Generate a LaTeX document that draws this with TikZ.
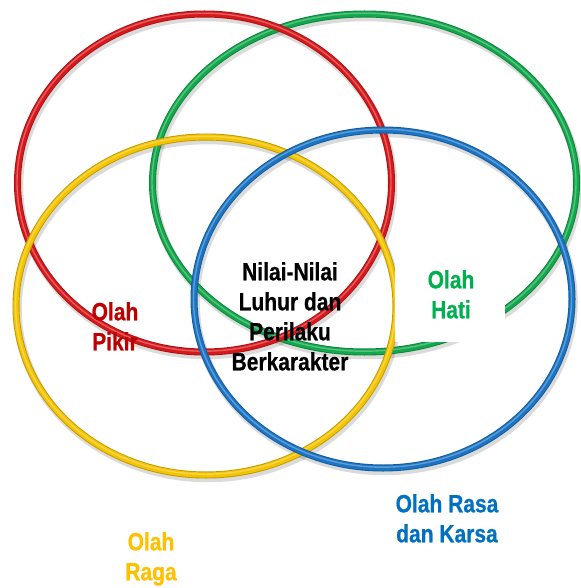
\documentclass[tikz,border=0pt]{standalone}
\usepackage{fontspec}
\newfontfamily\labfont{Liberation Sans}[FakeStretch=0.84,FakeBold=0.6]
\definecolor{ringred}{HTML}{D7191C}
\definecolor{ringgreen}{HTML}{12A84C}
\definecolor{ringyellow}{HTML}{F5C400}
\definecolor{ringblue}{HTML}{1B74C4}
\definecolor{txtred}{HTML}{C00000}
\definecolor{txtgreen}{HTML}{00B050}
\definecolor{txtblue}{HTML}{0070C0}
\definecolor{txtyellow}{HTML}{FFC000}
\tikzset{
  ringshadow/.style={line width=8.5pt, draw=black, opacity=0.14},
  ringbase/.style={line width=7pt, draw=#1!78!black},
  ringmain/.style={line width=5.2pt, draw=#1},
  ringhl/.style={line width=1.4pt, draw=white, opacity=0.3},
  lbl/.style={font=\labfont\bfseries\fontsize{25}{30}\selectfont, align=center, inner sep=0pt, anchor=north}
}
\begin{document}
\begin{tikzpicture}[x=1pt,y=-1pt]
\useasboundingbox (0,0) rectangle (580,588);
\fill[white] (0,0) rectangle (580,588);
% centres
\coordinate (cr) at (204.5,183);
\coordinate (cg) at (364.5,183);
\coordinate (cy) at (206,306);
\coordinate (cb) at (383,299);
% shadows
\foreach \c/\rx in {cg/212,cr/187,cy/190,cb/189}{
  \draw[ringshadow] ([shift={(1.5,3)}]\c) ellipse [x radius=\rx pt, y radius=169pt];
}
% rings
\foreach \c/\rx/\col in {cg/212/ringgreen,cr/187/ringred,cy/190/ringyellow,cb/189/ringblue}{
  \draw[ringbase=\col] (\c) ellipse [x radius=\rx pt, y radius=169pt];
  \draw[ringmain=\col] (\c) ellipse [x radius=\rx pt, y radius=169pt];
  \draw[ringhl] ([shift={(-0.5,-0.8)}]\c) ellipse [x radius=\rx pt, y radius=169pt];
}
% white box behind Olah Hati
\fill[white] (395,250) rectangle (505,342);
% labels
\node[lbl, text=black] (nilai) at (290,262) {Nilai-Nilai\\Luhur dan\\Perilaku\\Berkarakter};
\node[lbl, text=txtred] (pikir) at (115,302) {Olah\\Pikir};
\node[lbl, text=txtgreen] (hati) at (451,270) {Olah\\Hati};
\node[lbl, text=txtblue] (rasa) at (447,494) {Olah Rasa\\dan Karsa};
\node[lbl, text=txtyellow] (raga) at (151,532) {Olah\\Raga};
\end{tikzpicture}
\end{document}
